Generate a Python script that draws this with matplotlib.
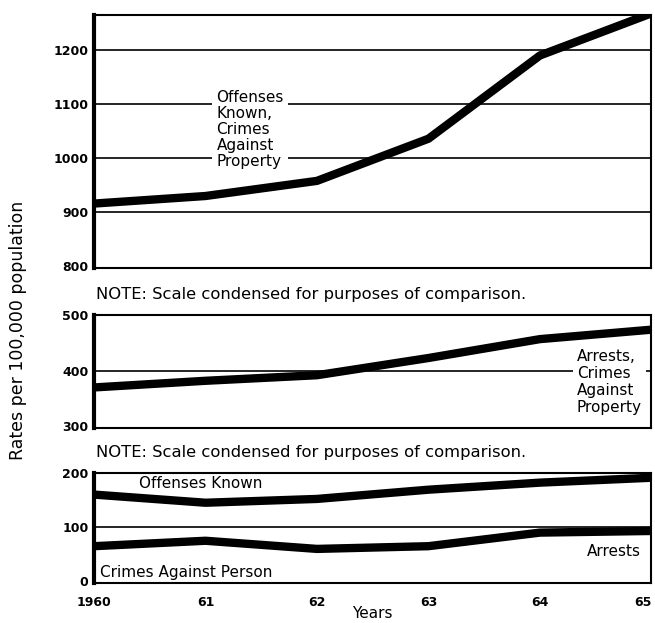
import matplotlib
matplotlib.use("Agg")
import matplotlib.pyplot as plt

years = [1960, 1961, 1962, 1963, 1964, 1965]
year_labels = ["1960", "61", "62", "63", "64", "65"]

offenses_property = [916, 930, 958, 1036, 1190, 1268]
arrests_property = [370, 382, 392, 423, 457, 474]
offenses_person = [160, 145, 152, 169, 182, 191]
arrests_person = [65, 75, 60, 65, 90, 93]

plt.rcParams['font.family'] = ['DejaVu Sans']

fig = plt.figure(figsize=(6.55, 6.23), dpi=100)
left, width = 0.1435, 0.851
ax1 = fig.add_axes([left, 0.570, width, 0.406])
ax2 = fig.add_axes([left, 0.313, width, 0.181])
ax3 = fig.add_axes([left, 0.064, width, 0.177])

fs = 11
lw = 6
for ax in (ax1, ax2, ax3):
    ax.set_xlim(1960, 1965)
    ax.set_xticks(years)
    ax.tick_params(length=0, labelsize=9, pad=4)
    for s in ax.spines.values():
        s.set_linewidth(1.5)
    ax.spines['left'].set_linewidth(3)

# top panel
ax1.set_ylim(797, 1265)
ax1.set_yticks([800, 900, 1000, 1100, 1200])
ax1.set_yticklabels(['800', '900', '1000', '1100', '1200'], fontweight='bold')
for v in [900, 1000, 1100, 1200]:
    ax1.axhline(v, color='black', lw=1.2, zorder=1)
ax1.plot(years, offenses_property, color='black', lw=lw, zorder=3, solid_capstyle='butt')
ax1.text(1961.1, 1053, "Offenses\nKnown,\nCrimes\nAgainst\nProperty", fontsize=fs,
         ha='left', va='center', linespacing=1.1, zorder=2,
         bbox=dict(facecolor='white', edgecolor='none', pad=3))
ax1.set_xticklabels([])

# middle panel
ax2.set_ylim(297, 500)
ax2.set_yticks([300, 400, 500])
ax2.set_yticklabels(['300', '400', '500'], fontweight='bold')
ax2.axhline(400, color='black', lw=1.2, zorder=1)
ax2.plot(years, arrests_property, color='black', lw=lw, zorder=3, solid_capstyle='butt')
ax2.text(1964.33, 380, "Arrests,\nCrimes\nAgainst\nProperty", fontsize=fs,
         ha='left', va='center', linespacing=1.15, zorder=2,
         bbox=dict(facecolor='white', edgecolor='none', pad=3))
ax2.set_xticklabels([])

# bottom panel
ax3.set_ylim(-3, 200)
ax3.set_yticks([0, 100, 200])
ax3.set_yticklabels(['0', '100', '200'], fontweight='bold')
ax3.axhline(100, color='black', lw=1.2, zorder=1)
ax3.plot(years, offenses_person, color='black', lw=lw, zorder=3, solid_capstyle='butt')
ax3.plot(years, arrests_person, color='black', lw=lw, zorder=3, solid_capstyle='butt')
ax3.text(1960.4, 180, "Offenses Known", fontsize=fs, ha='left', va='center')
ax3.text(1964.42, 56, "Arrests", fontsize=fs, ha='left', va='center')
ax3.text(1960.05, 16, "Crimes Against Person", fontsize=fs, ha='left', va='center')
ax3.tick_params(axis='x', pad=9)
ax3.set_xticklabels(year_labels, fontweight='bold')
ax3.get_xticklabels()[-1].set_ha('right')
ax3.get_xticklabels()[-1].set_x(1965.05)
ax3.set_xlabel("Years", fontsize=fs, labelpad=-2)

fig.text(0.146, 0.528, "NOTE: Scale condensed for purposes of comparison.", fontsize=11.8, va='center')
fig.text(0.146, 0.274, "NOTE: Scale condensed for purposes of comparison.", fontsize=11.8, va='center')
fig.text(0.028, 0.469, "Rates per 100,000 population", fontsize=12.5, rotation=90,
         ha='center', va='center')

fig.savefig("out.png", dpi=100)
